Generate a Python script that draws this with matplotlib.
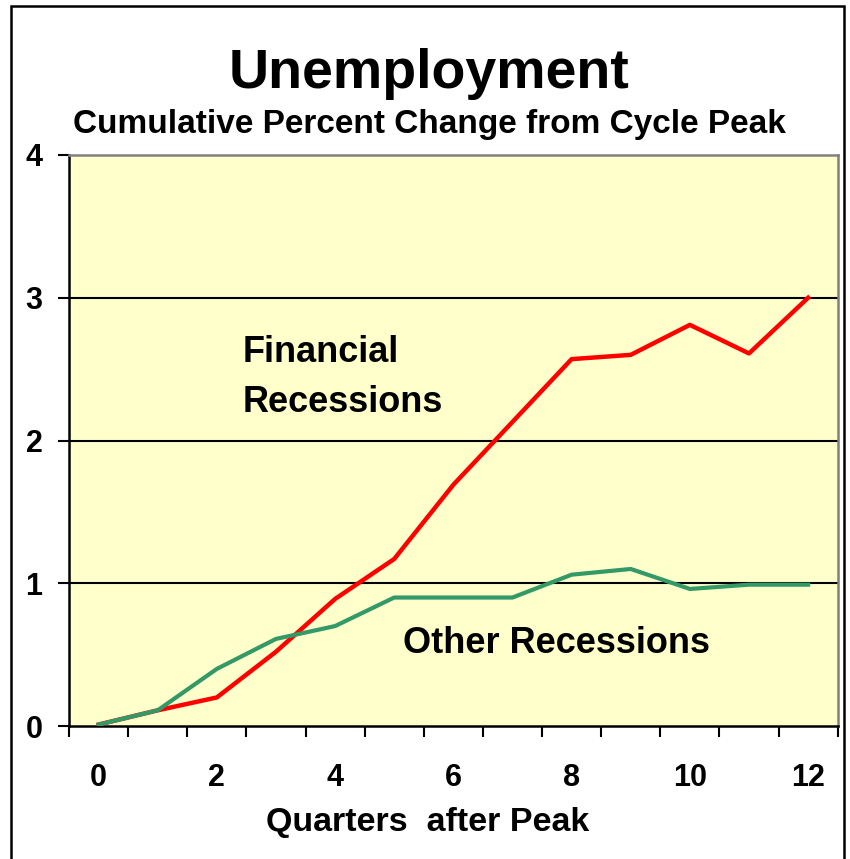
import matplotlib
matplotlib.use("Agg")
import matplotlib.pyplot as plt
from matplotlib.patches import Rectangle
import numpy as np

plt.rcParams["font.family"] = ["Liberation Sans", "DejaVu Sans"]
plt.rcParams["font.weight"] = "bold"

quarters = list(range(13))
financial = [0.01, 0.11, 0.20, 0.52, 0.89, 1.17, 1.69, 2.13, 2.57, 2.60, 2.81, 2.61, 3.00]
other = [0.01, 0.11, 0.40, 0.61, 0.70, 0.90, 0.90, 0.90, 1.06, 1.10, 0.96, 0.99, 0.99]
xticklabels = ["0", "2", "4", "6", "8", "10", "12"]
yticks = [0, 1, 2, 3, 4]

W, H = 850, 859
fig = plt.figure(figsize=(W / 100, H / 100), dpi=100)
ax = fig.add_axes([69 / W, 1 - 726 / H, 768.7 / W, 571 / H])
ax.set_facecolor("#FFFFCC")

for y in yticks[1:-1]:
    ax.axhline(y, color="black", lw=1.5, zorder=1)

ax.plot(quarters, financial, color="#FF0000", lw=3.2, zorder=3)
ax.plot(quarters, other, color="#339966", lw=3.0, zorder=3)

ax.set_xlim(-0.5, 12.5)
ax.set_ylim(0, 4)
ax.set_yticks(yticks)
ax.set_yticklabels([str(v) for v in yticks], fontsize=22, fontweight="bold")
ax.set_xticks(np.arange(-0.5, 13, 1))
ax.set_xticklabels([])
ax.set_xticks(np.arange(0, 13, 2), minor=True)
ax.set_xticklabels(xticklabels, minor=True, fontsize=22, fontweight="bold")
ax.tick_params(axis="x", which="major", length=8, width=1.5, color="black")
ax.tick_params(axis="x", which="minor", length=0, pad=27)
ax.tick_params(axis="y", length=8, width=1.5, pad=11)

for side in ("left", "bottom"):
    ax.spines[side].set_color("black")
    ax.spines[side].set_linewidth(1.8)
for side in ("top", "right"):
    ax.spines[side].set_color("#808080")
    ax.spines[side].set_linewidth(1.8)

fig.text(429.5 / W, 1 - 88 / H, "Unemployment", ha="center", va="baseline",
         fontsize=40, fontweight="bold")
fig.text(429 / W, 1 - 133 / H, "Cumulative Percent Change from Cycle Peak",
         ha="center", va="baseline", fontsize=24, fontweight="bold")
fig.text(428 / W, 1 - 831 / H, "Quarters  after Peak", ha="center", va="baseline",
         fontsize=24.5, fontweight="bold")

fig.text(243 / W, 1 - 361.7 / H, "Financial", ha="left", va="baseline",
         fontsize=26, fontweight="bold")
fig.text(243 / W, 1 - 411.7 / H, "Recessions", ha="left", va="baseline",
         fontsize=26, fontweight="bold")
fig.text(403 / W, 1 - 653 / H, "Other Recessions", ha="left", va="baseline",
         fontsize=26, fontweight="bold")

fig.patches.append(Rectangle((11 / W, -0.05), 833 / W, 1.05 - 6 / H,
                             transform=fig.transFigure, fill=False,
                             edgecolor="black", lw=1.8))

fig.savefig("out.png", dpi=100)
